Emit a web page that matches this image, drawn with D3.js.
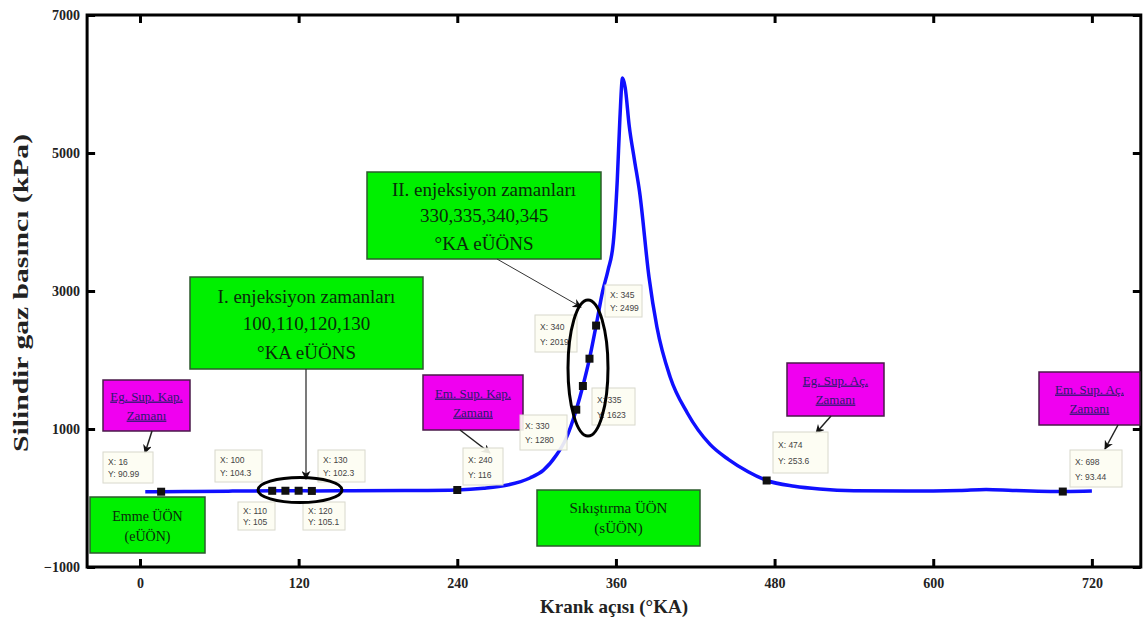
<!DOCTYPE html>
<html>
<head>
<meta charset="utf-8">
<script src="https://cdn.jsdelivr.net/npm/d3@7"></script>
<style>
  body { margin: 0; background: #fff; }
  svg text { font-family: "Liberation Serif", "DejaVu Serif", serif; }
  svg text.tip { font-family: "Liberation Sans", Arial, sans-serif; }
</style>
</head>
<body>
<div class="chart"></div>
<script>
// pressure curve (crank angle, kPa)
var crank = [4, 16, 40, 70, 100, 110, 120, 130, 160, 200, 240, 260, 278, 295, 305, 315, 322, 330, 335, 340, 345,
    350, 354, 358, 361, 363, 365, 367, 370, 374, 378, 385, 391, 401, 414, 431, 445, 460, 474, 495, 514, 540, 580,
    620, 640, 660, 700, 720];
var pressure = [92, 91, 95, 100, 104.3, 105, 105.1, 102.3, 105, 108, 116, 140, 188, 290, 400, 623, 850, 1280, 1623,
    2019, 2499, 3000, 3300, 3700, 4600, 5500, 6087, 5950, 5400, 4900, 4420, 3203, 2478, 1754, 1232, 780, 560, 380,
    253.6, 170, 130, 105, 100, 110, 125, 110, 93, 100];

// data tips
var tipX = [16, 100, 110, 120, 130, 240, 330, 335, 340, 345, 474, 698];
var tipY = ["90.99", "104.3", "105", "105.1", "102.3", "116", "1280", "1623", "2019", "2499", "253.6", "93.44"];

var xTicks = [0, 120, 240, 360, 480, 600, 720];
var yTicks = [-1000, 1000, 3000, 5000, 7000];

var xTitle = "Krank açısı (°KA)";
var yTitle = "Silindir gaz basıncı (kPa)";

var greenNotes = [
    ["Emme ÜÖN", "(eÜÖN)"],
    ["Sıkıştırma ÜÖN", "(sÜÖN)"],
    ["I. enjeksiyon zamanları", "100,110,120,130", "°KA eÜÖNS"],
    ["II. enjeksiyon zamanları", "330,335,340,345", "°KA eÜÖNS"]
];
var valveNotes = [
    ["Eg. Sup. Kap.", "Zamanı"],
    ["Em. Sup. Kap.", "Zamanı"],
    ["Eg. Sup. Aç.", "Zamanı"],
    ["Em. Sup. Aç.", "Zamanı"]
];

function funcCall() {
    var W = 1144, H = 626;
    var svg = d3.select(".chart").append("svg")
        .attr("width", W).attr("height", H);

    var x = d3.scaleLinear().domain([-40, 757]).range([87.1, 1140.8]);
    var y = d3.scaleLinear().domain([-1000, 7000]).range([567, 15]);
    var x0 = 87.1, x1 = 1140.8, y0 = 15, y1 = 567;

    // axes, ticks pointing inwards
    var gx = svg.append("g").attr("transform", "translate(0," + y1 + ")")
        .call(d3.axisBottom(x).tickValues(xTicks).tickFormat(d3.format("d"))
            .tickSizeInner(-8).tickSizeOuter(0).tickPadding(11));
    var gxt = svg.append("g").attr("transform", "translate(0," + y0 + ")")
        .call(d3.axisTop(x).tickValues(xTicks).tickSizeInner(-8).tickSizeOuter(0).tickFormat(""));
    var gy = svg.append("g").attr("transform", "translate(" + x0 + ",0)")
        .call(d3.axisLeft(y).tickValues(yTicks).tickFormat(d3.format("d"))
            .tickSizeInner(-8).tickSizeOuter(0).tickPadding(7));
    var gyr = svg.append("g").attr("transform", "translate(" + x1 + ",0)")
        .call(d3.axisRight(y).tickValues(yTicks).tickSizeInner(-8).tickSizeOuter(0).tickFormat(""));
    [gx, gxt, gy, gyr].forEach(function (g) {
        g.select(".domain").remove();
        g.selectAll(".tick line").attr("stroke", "#000").attr("stroke-width", 3);
        g.selectAll("text").attr("font-weight", "bold")
            .attr("font-size", 14).attr("fill", "#222");
    });

    svg.append("rect")
        .attr("x", x0).attr("y", y0).attr("width", x1 - x0).attr("height", y1 - y0)
        .attr("fill", "none").attr("stroke", "#000").attr("stroke-width", 3);

    svg.append("text").text(xTitle)
        .attr("x", 614).attr("y", 613).attr("text-anchor", "middle")
        .attr("font-weight", "bold").attr("font-size", 19).attr("fill", "#222");
    svg.append("text").text(yTitle)
        .attr("transform", "translate(28,293) rotate(-90)").attr("text-anchor", "middle")
        .attr("font-weight", "bold").attr("font-size", 20).attr("fill", "#222")
        .attr("textLength", 318).attr("lengthAdjust", "spacingAndGlyphs");

    // curve
    var pts = crank.map(function (c, i) { return [c, pressure[i]]; });
    var line = d3.line()
        .x(function (d) { return x(d[0]); })
        .y(function (d) { return y(d[1]); })
        .curve(d3.curveMonotoneX);
    svg.append("path").datum(pts)
        .attr("fill", "none").attr("stroke", "#1010ff").attr("stroke-width", 3.5)
        .attr("d", line);

    // arrow heads
    var defs = svg.append("defs");
    defs.append("marker").attr("id", "arr")
        .attr("viewBox", "0 0 10 10").attr("refX", 9).attr("refY", 5)
        .attr("markerWidth", 9).attr("markerHeight", 9).attr("orient", "auto")
        .attr("markerUnits", "userSpaceOnUse")
        .append("path").attr("d", "M0,0L10,5L0,10L3,5Z").attr("fill", "#111");

    // green notes
    var greenBox = [[90, 497, 115, 56], [537, 490, 163, 56], [190, 277, 233, 92], [367, 172, 234, 87]];
    var greenSize = [14, 15, 19, 19];
    var greenLineY = [[19, 39], [18, 38], [19, 46, 75], [17, 43, 71]];
    greenNotes.forEach(function (lines, i) {
        var b = greenBox[i];
        svg.append("rect").attr("x", b[0]).attr("y", b[1]).attr("width", b[2]).attr("height", b[3])
            .attr("fill", "#00f000").attr("stroke", "#2d5a2d").attr("stroke-width", 1.5);
        lines.forEach(function (t, j) {
            svg.append("text").text(t)
                .attr("x", b[0] + b[2] / 2).attr("y", b[1] + greenLineY[i][j])
                .attr("dy", "0.35em").attr("text-anchor", "middle")
                .attr("font-size", greenSize[i]).attr("fill", "#0a2a0a");
        });
    });

    // connectors from injection notes
    svg.append("line").attr("x1", 306).attr("y1", 369).attr("x2", 306).attr("y2", 479)
        .attr("stroke", "#222").attr("stroke-width", 1.2).attr("marker-end", "url(#arr)");
    svg.append("line").attr("x1", 497).attr("y1", 259).attr("x2", 581).attr("y2", 307)
        .attr("stroke", "#333").attr("stroke-width", 1).attr("marker-end", "url(#arr)");

    // valve timing notes
    var valveBox = [[103, 380, 87, 51], [423, 375, 100, 55], [787, 363, 97, 53], [1039, 372, 101, 53]];
    var valveArrow = [[152, 431, 145, 453], [460, 430, 490, 453], [831, 416, 816, 433], [1118, 425, 1105, 449]];
    valveNotes.forEach(function (lines, i) {
        var b = valveBox[i];
        svg.append("rect").attr("x", b[0]).attr("y", b[1]).attr("width", b[2]).attr("height", b[3])
            .attr("fill", "#f000f0").attr("stroke", "#4a1a4a").attr("stroke-width", 1.5);
        lines.forEach(function (t, j) {
            svg.append("text").text(t)
                .attr("x", b[0] + b[2] / 2).attr("y", b[1] + b[3] / 2 + (j - 0.5) * 19)
                .attr("dy", "0.35em").attr("text-anchor", "middle")
                .attr("font-size", 13).attr("fill", "#2b1a6e")
                .attr("text-decoration", "underline");
        });
        var a = valveArrow[i];
        svg.append("line").attr("x1", a[0]).attr("y1", a[1]).attr("x2", a[2]).attr("y2", a[3])
            .attr("stroke", "#222").attr("stroke-width", 1.5).attr("marker-end", "url(#arr)");
    });

    // data tips
    var tipBox = [[103, 452, 50, 31], [215, 450, 47, 32], [238, 502, 37, 28], [303, 502, 42, 28],
        [318, 450, 47, 32], [463, 448, 40, 37], [520, 415, 47, 35], [592, 388, 43, 37],
        [535, 315, 42, 37], [605, 285, 37, 32], [773, 432, 55, 41], [1070, 450, 52, 37]];
    var tips = svg.append("g");
    tipX.forEach(function (v, i) {
        var b = tipBox[i];
        tips.append("rect").attr("x", b[0]).attr("y", b[1]).attr("width", b[2]).attr("height", b[3])
            .attr("fill", "#fdfdf2").attr("fill-opacity", 0.9)
            .attr("stroke", "#d8d8cc").attr("stroke-width", 1);
        tips.append("text").attr("class", "tip").text("X: " + v)
            .attr("x", b[0] + 5).attr("y", b[1] + b[3] * 0.32).attr("dy", "0.35em")
            .attr("font-size", 8.5).attr("fill", "#444");
        tips.append("text").attr("class", "tip").text("Y: " + tipY[i])
            .attr("x", b[0] + 5).attr("y", b[1] + b[3] * 0.72).attr("dy", "0.35em")
            .attr("font-size", 8.5).attr("fill", "#444");
    });

    // markers at the data tips
    svg.append("g").selectAll("rect").data(tipX).enter().append("rect")
        .attr("x", function (d, i) { return x(d) - 4; })
        .attr("y", function (d, i) { return y(+tipY[i]) - 4; })
        .attr("width", 8).attr("height", 8).attr("fill", "#111");

    // ellipses round the injection points
    svg.append("ellipse").attr("cx", 300).attr("cy", 490).attr("rx", 42).attr("ry", 12.5)
        .attr("fill", "none").attr("stroke", "#000").attr("stroke-width", 3);
    svg.append("ellipse").attr("cx", 588).attr("cy", 368).attr("rx", 20).attr("ry", 68)
        .attr("fill", "none").attr("stroke", "#000").attr("stroke-width", 3);
}
funcCall();
</script>
</body>
</html>
